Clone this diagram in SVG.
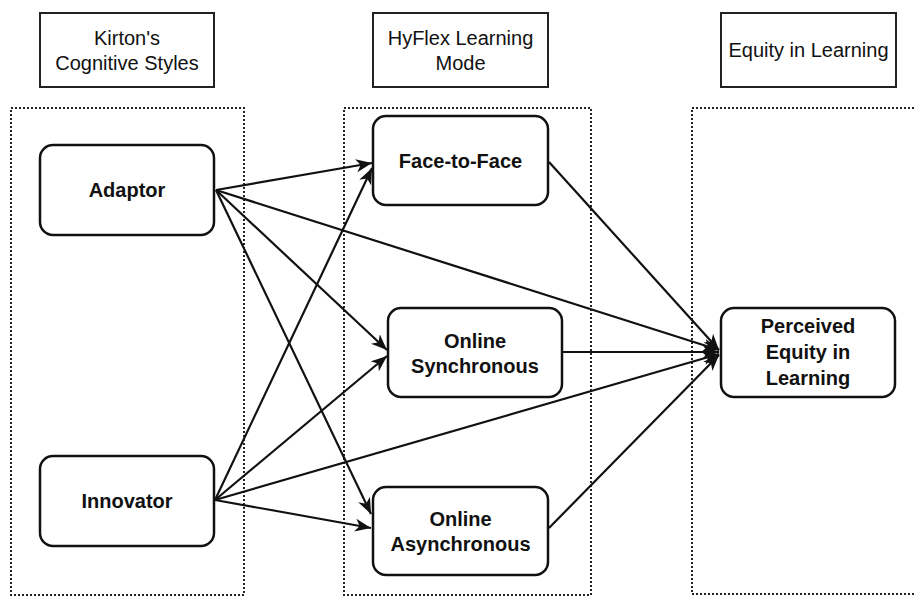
<svg xmlns="http://www.w3.org/2000/svg" width="914" height="597" viewBox="0 0 914 597">
<style>
.hdr{fill:#fff;stroke:#222;stroke-width:2}
.cont{fill:none;stroke:#222;stroke-width:2;stroke-dasharray:2 2}
.node{fill:#fff;stroke:#111;stroke-width:2.5}
.ht{font-family:"Liberation Sans",Arial,sans-serif;font-size:20px;fill:#111;text-anchor:middle}
.nt{font-family:"Liberation Sans",Arial,sans-serif;font-size:20px;font-weight:bold;fill:#111;text-anchor:middle}
.edge{stroke:#111;stroke-width:2.2;fill:none;marker-end:url(#arr)}
</style>
<defs>
<marker id="arr" markerUnits="userSpaceOnUse" markerWidth="17" markerHeight="14" refX="16" refY="6.5" orient="auto" viewBox="0 0 17 13">
<path d="M0,0 L16,6.5 L0,13 L4.5,6.5 z" fill="#111"/>
</marker>
</defs>
<rect width="914" height="597" fill="#fff"/>
<g id="containers">
<rect class="cont" x="11" y="108" width="233" height="487"/>
<rect class="cont" x="344" y="108" width="247" height="487"/>
<rect class="cont" x="692" y="108" width="230" height="486"/>
</g>
<g id="header-kirton">
<rect class="hdr" x="40" y="13" width="174" height="74"/>
<text class="ht" x="127" y="45">Kirton's</text>
<text class="ht" x="127" y="70">Cognitive Styles</text>
</g>
<g id="header-hyflex">
<rect class="hdr" x="373" y="13" width="175" height="74"/>
<text class="ht" x="460.5" y="45">HyFlex Learning</text>
<text class="ht" x="460.5" y="70">Mode</text>
</g>
<g id="header-equity">
<rect class="hdr" x="721" y="13" width="175" height="74"/>
<text class="ht" x="808.5" y="57">Equity in Learning</text>
</g>
<g id="connectors">
<line class="edge" x1="216" y1="190" x2="372" y2="163"/>
<line class="edge" x1="215" y1="500" x2="372" y2="168"/>
<line class="edge" x1="216" y1="190" x2="387" y2="350"/>
<line class="edge" x1="215" y1="500" x2="387" y2="356"/>
<line class="edge" x1="216" y1="190" x2="371" y2="514"/>
<line class="edge" x1="215" y1="500" x2="371" y2="528"/>
<line class="edge" x1="216" y1="190" x2="719" y2="350"/>
<line class="edge" x1="215" y1="500" x2="719" y2="354"/>
<line class="edge" x1="549" y1="162" x2="719" y2="350"/>
<line class="edge" x1="562" y1="352" x2="719" y2="352"/>
<line class="edge" x1="549" y1="528" x2="719" y2="355"/>
</g>
<g id="adaptor">
<rect class="node" x="40" y="145" width="174" height="90" rx="13"/>
<text class="nt" x="127" y="197">Adaptor</text>
</g>
<g id="innovator">
<rect class="node" x="40" y="456" width="174" height="90" rx="13"/>
<text class="nt" x="127" y="508">Innovator</text>
</g>
<g id="face-to-face">
<rect class="node" x="373" y="116" width="175" height="89" rx="13"/>
<text class="nt" x="460.5" y="168">Face-to-Face</text>
</g>
<g id="online-synchronous">
<rect class="node" x="388" y="308" width="174" height="89" rx="13"/>
<text class="nt" x="475" y="348">Online</text>
<text class="nt" x="475" y="373">Synchronous</text>
</g>
<g id="online-asynchronous">
<rect class="node" x="373" y="487" width="175" height="88" rx="13"/>
<text class="nt" x="460.5" y="526">Online</text>
<text class="nt" x="460.5" y="551">Asynchronous</text>
</g>
<g id="perceived-equity">
<rect class="node" x="721" y="308" width="174" height="89" rx="13"/>
<text class="nt" x="808" y="333">Perceived</text>
<text class="nt" x="808" y="359">Equity in</text>
<text class="nt" x="808" y="385">Learning</text>
</g>
</svg>
